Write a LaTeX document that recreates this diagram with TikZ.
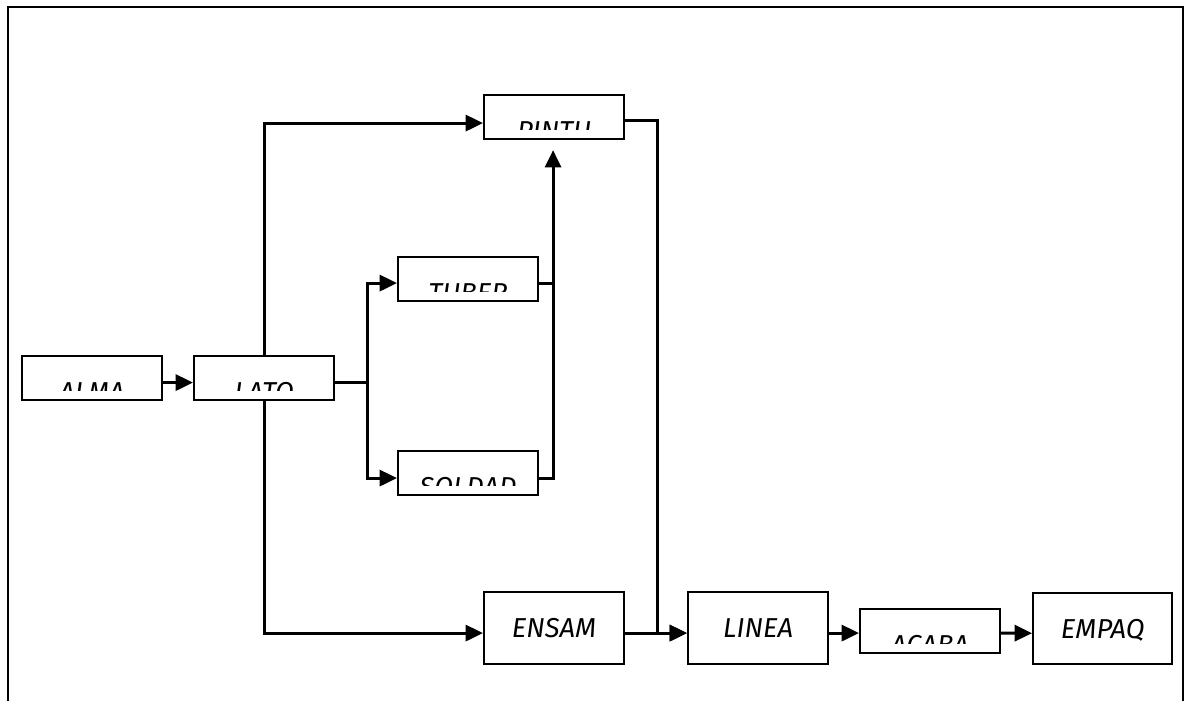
\documentclass[tikz,border=0pt]{standalone}
\usepackage{fontspec}
\newfontfamily\handfont{Fira Sans}
\usetikzlibrary{arrows.meta,calc}
\tikzset{
  boxnode/.style={draw, line width=1.6pt, inner sep=0pt, anchor=north west,
    minimum width=105pt, minimum height=#1},
  boxnode/.default=33pt,
  lbl/.style={path picture={
      \clip (path picture bounding box.north west) rectangle ([yshift=7.5pt]path picture bounding box.south east);
      \node[font=\handfont\itshape\fontsize{20.5pt}{24pt}\selectfont, anchor=base, inner sep=0pt]
        at ([yshift=-34pt]path picture bounding box.north) {#1};}},
  conn/.style={line width=2.3pt},
  arr/.style={conn, -{Triangle[length=13pt,width=12pt]}},
}
\begin{document}
\begin{tikzpicture}[x=0.75pt,y=-0.75pt]
\useasboundingbox (0,0) rectangle (1185,700);
\draw[line width=2pt] (8,720) -- (8,7) -- (1183,7) -- (1183,720);

\node[boxnode, lbl=ALMA] (alma) at (21,355) {};
\node[boxnode, lbl=LATO] (lato) at (193,355) {};
\node[boxnode, lbl=PINTU] (pintu) at (483,94) {};
\node[boxnode, lbl=TUBER] (tuber) at (397,256) {};
\node[boxnode, lbl=SOLDAD] (soldad) at (397,450) {};
\node[boxnode=54pt, lbl=ENSAM] (ensam) at (483,591) {};
\node[boxnode=54pt, lbl=LINEA] (linea) at (687,591) {};
\node[boxnode, lbl=ACABA] (acaba) at (859,608) {};
\node[boxnode=53.5pt, minimum width=104.5pt, lbl=EMPAQ] (empaq) at (1032,592) {};

% ALMA -> LATO
\draw[arr] ($(alma.east)+(0,4.5)$) -- ($(lato.west)+(0,4.5)$);
% LATO trunk up to PINTU
\draw[arr] (lato.north) |- ($(pintu.west)+(0,6)$);
% LATO trunk down to ENSAM
\draw[arr] (lato.south) |- ($(ensam.west)+(0,5)$);
% LATO right branch
\coordinate (jl) at ($(lato.east)+(32,4.5)$);
\draw[conn] ($(lato.east)+(0,4.5)$) -- (jl);
\draw[arr] (jl) |- ($(tuber.west)+(0,4)$);
\draw[arr] (jl) |- ($(soldad.west)+(0,5)$);
% TUBER / SOLDAD -> PINTU
\draw[conn] ($(tuber.east)+(0,4)$) -- ($(tuber.east)+(15,4)$);
\draw[arr] ($(soldad.east)+(0,5)$) -| ($(pintu.south)+(-1,10)$);
% PINTU -> LINEA
\draw[arr] ($(pintu.east)+(0,3)$) -| ($(ensam.east)+(32,5)$) -- ($(linea.west)+(0,5)$);
% ENSAM -> LINEA
\draw[arr] ($(ensam.east)+(0,5)$) -- ($(linea.west)+(0,5)$);
% LINEA -> ACABA -> EMPAQ
\draw[arr] ($(linea.east)+(0,5)$) -- ($(acaba.west)+(0,2)$);
\draw[arr] ($(acaba.east)+(0,2)$) -- ($(empaq.west)+(0,4.5)$);
\end{tikzpicture}
\end{document}
